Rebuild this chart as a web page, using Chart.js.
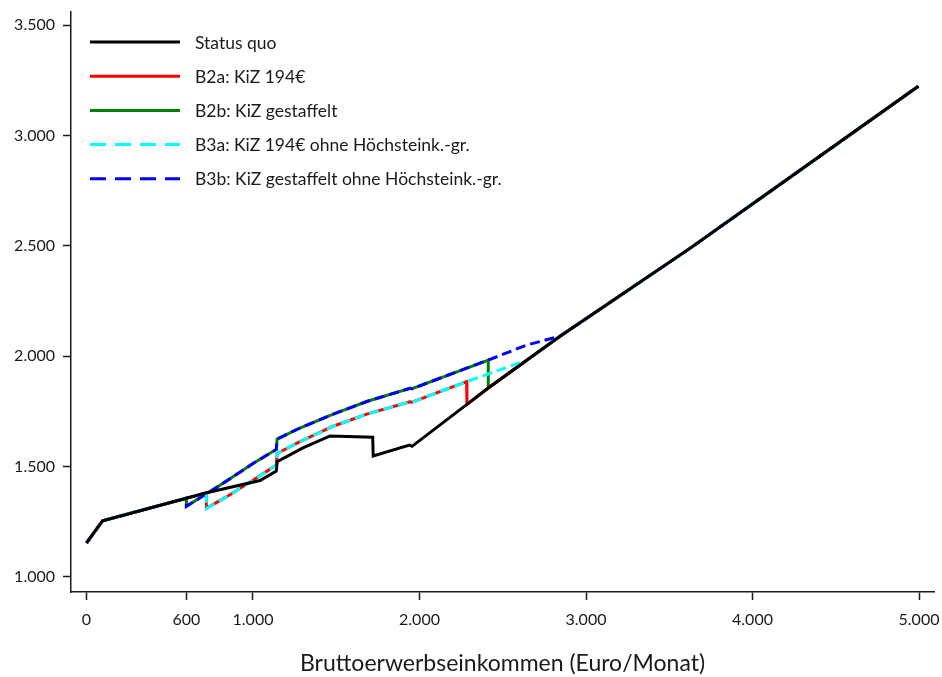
<!DOCTYPE html>
<html lang="de">
<head>
  <meta charset="UTF-8" />
  <title>Bruttoerwerbseinkommen</title>
  <script src="https://cdn.jsdelivr.net/npm/chart.js"></script>
  <style>
    body { margin: 0; background: #fff; }
    canvas { display: block; }
  </style>
</head>
<body>
  <canvas id="chart" width="942" height="677"></canvas>

  <script>
    // x = Bruttoerwerbseinkommen (Euro/Monat), y = verfügbares Einkommen
    const statusX = [0, 97, 722, 1042, 1140, 1145, 1300, 1463, 1719, 1722, 1940, 1955, 2285, 2413, 2644, 2844, 3624, 4245, 4996];
    const statusY = [1154, 1255, 1382, 1437, 1480, 1522, 1585, 1639, 1633, 1548, 1598, 1592, 1782, 1856, 1982, 2091, 2489, 2821, 3224];

    const b2aX = [0, 97, 720, 720, 842, 1002, 1140, 1145, 1282, 1482, 1683, 1943, 1955, 2283, 2285, 2413, 2644, 2844, 3624, 4245, 4996];
    const b2aY = [1154, 1255, 1382, 1311, 1364, 1439, 1507, 1560, 1613, 1683, 1738, 1794, 1792, 1885, 1782, 1856, 1982, 2091, 2489, 2821, 3224];

    const b2bX = [0, 97, 600, 600, 800, 1002, 1140, 1145, 1282, 1482, 1683, 1943, 1955, 2413, 2413, 2644, 2844, 3624, 4245, 4996];
    const b2bY = [1154, 1255, 1357, 1320, 1415, 1515, 1578, 1625, 1675, 1738, 1795, 1855, 1853, 1983, 1856, 1982, 2091, 2489, 2821, 3224];

    const b3aX = [0, 97, 720, 720, 842, 1002, 1140, 1145, 1282, 1482, 1683, 1943, 1955, 2283, 2644, 2844, 3624, 4245, 4996];
    const b3aY = [1154, 1255, 1382, 1311, 1364, 1439, 1507, 1560, 1613, 1683, 1738, 1794, 1792, 1885, 1982, 2091, 2489, 2821, 3224];

    const b3bX = [0, 97, 600, 600, 800, 1002, 1140, 1145, 1282, 1482, 1683, 1943, 1955, 2413, 2644, 2844, 3624, 4245, 4996];
    const b3bY = [1154, 1255, 1357, 1320, 1415, 1515, 1578, 1625, 1675, 1738, 1795, 1855, 1853, 1983, 2051, 2091, 2489, 2821, 3224];

    const xTicks = [0, 600, 1000, 2000, 3000, 4000, 5000];
    const yTicks = [1000, 1500, 2000, 2500, 3000, 3500];

    const FONT = "Lato, 'Open Sans', sans-serif";
    const INK = "#1a1a1a";

    function pts(xs, ys) {
      return xs.map((x, i) => ({ x: x, y: ys[i] }));
    }

    function fmt(v) {
      return String(v).replace(/\B(?=(\d{3})+(?!\d))/g, ".");
    }

    // legend drawn by hand: vertical list of line samples top-left
    const legendPlugin = {
      id: "lineLegend",
      afterDraw(chart) {
        const ctx = chart.ctx;
        ctx.save();
        ctx.font = "17.5px " + FONT;
        ctx.textBaseline = "middle";
        chart.data.datasets.forEach((ds, i) => {
          const y = 42 + i * 34.2;
          ctx.beginPath();
          ctx.strokeStyle = ds.borderColor;
          ctx.lineWidth = 3;
          ctx.setLineDash(ds.borderDash.length ? [16, 9] : []);
          ctx.moveTo(90, y);
          ctx.lineTo(180, y);
          ctx.stroke();
          ctx.setLineDash([]);
          ctx.fillStyle = INK;
          ctx.fillText(ds.label, 195, y + 1);
        });
        ctx.restore();
      }
    };

    function line(label, xs, ys, color, dash, order) {
      return {
        label: label,
        data: pts(xs, ys),
        borderColor: color,
        backgroundColor: color,
        borderWidth: 3,
        borderDash: dash,
        pointRadius: 0,
        fill: false,
        tension: 0,
        order: order
      };
    }

    new Chart(document.getElementById("chart"), {
      type: "line",
      data: {
        datasets: [
          line("Status quo", statusX, statusY, "#000000", [], 0),
          line("B2a: KiZ 194€", b2aX, b2aY, "#ff0000", [], 3),
          line("B2b: KiZ gestaffelt", b2bX, b2bY, "#008000", [], 4),
          line("B3a: KiZ 194€ ohne Höchsteink.-gr.", b3aX, b3aY, "#00ffff", [10, 5], 1),
          line("B3b: KiZ gestaffelt ohne Höchsteink.-gr.", b3bX, b3bY, "#0000ff", [10, 5], 2)
        ]
      },
      options: {
        responsive: false,
        animation: false,
        layout: { padding: { top: 12, right: 8, left: 0, bottom: 0 } },
        plugins: {
          legend: { display: false },
          tooltip: { enabled: false }
        },
        scales: {
          x: {
            type: "linear",
            min: -93,
            max: 5090,
            afterBuildTicks: s => { s.ticks = xTicks.map(v => ({ value: v })); },
            afterFit: s => { s.height = 85; s.paddingLeft = 0; s.paddingRight = 0; },
            grid: { drawOnChartArea: false, tickLength: 8, tickColor: INK, tickWidth: 1.5 },
            border: { color: INK, width: 1.5 },
            ticks: {
              color: INK,
              font: { family: FONT, size: 16 },
              padding: 10,
              maxRotation: 0,
              autoSkip: false,
              callback: v => fmt(v)
            },
            title: {
              display: true,
              text: "Bruttoerwerbseinkommen (Euro/Monat)",
              color: INK,
              font: { family: FONT, size: 23 },
              padding: { top: 0, bottom: 0 }
            }
          },
          y: {
            min: 932,
            max: 3560,
            afterBuildTicks: s => { s.ticks = yTicks.map(v => ({ value: v })); },
            afterFit: s => { s.width = 71; s.paddingTop = 0; s.paddingBottom = 0; },
            grid: { drawOnChartArea: false, tickLength: 8, tickColor: INK, tickWidth: 1.5 },
            border: { color: INK, width: 1.5 },
            ticks: {
              color: INK,
              font: { family: FONT, size: 16 },
              padding: 8,
              callback: v => fmt(v)
            }
          }
        }
      },
      plugins: [legendPlugin]
    });
  </script>
</body>
</html>
